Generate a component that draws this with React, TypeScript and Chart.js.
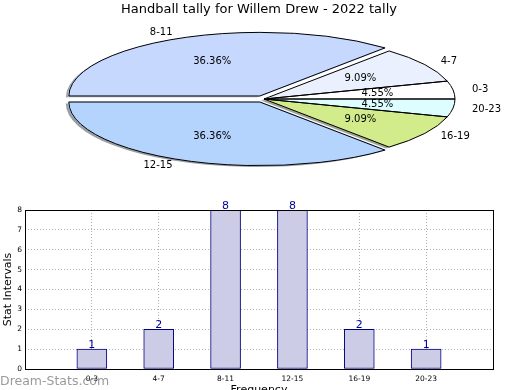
import React, { useEffect, useRef } from 'react';
import { Chart, registerables } from 'chart.js';

Chart.register(...registerables);

const TITLE = 'Handball tally for Willem Drew - 2022 tally';
const CATEGORIES = ['0-3', '4-7', '8-11', '12-15', '16-19', '20-23'];
const COUNTS = [1, 2, 8, 8, 2, 1];
const SLICE_COLORS = ['#FFFFFF', '#EAF0FE', '#C6D8FE', '#B4D3FD', '#D2EC8C', '#DCFEFE'];
const EXPLODED = ['8-11', '12-15'];
const Y_TICKS = [0, 1, 2, 3, 4, 5, 6, 7, 8];
const X_LABEL = 'Frequency';
const Y_LABEL = 'Stat Intervals';
const WATERMARK = 'Dream-Stats.com';

const FONT = "'DejaVu Sans', sans-serif";
const K = 0.333; // vertical squash of the pie
const PIE_R = 191;
const EXPLODE_PX = 10;

Chart.defaults.font.family = FONT;

function hexRgb(h: string) {
  const n = parseInt(h.slice(1), 16);
  return [(n >> 16) & 255, (n >> 8) & 255, n & 255];
}

function pieTransform(ctx: CanvasRenderingContext2D, cx: number, cy: number) {
  ctx.translate(cx, cy);
  ctx.scale(1, K);
  ctx.translate(-cx, -cy);
}

function arcGeom(arc: any) {
  const p = arc.getProps(['x', 'y', 'startAngle', 'endAngle', 'outerRadius'], true);
  const off = (arc.options && arc.options.offset) || 0;
  const c = p.endAngle - p.startAngle;
  const t = (off / 4) * (2 - Math.sin(Math.min(Math.PI, c)));
  const mid = (p.startAngle + p.endAngle) / 2;
  return {
    x: p.x, y: p.y, s: p.startAngle, e: p.endAngle, r: p.outerRadius, mid,
    ex: p.x + Math.cos(mid) * t, ey: p.y + Math.sin(mid) * t,
  };
}

function arcPath(ctx: CanvasRenderingContext2D, g: any, dx = 0, dy = 0) {
  ctx.save();
  ctx.translate(dx, dy);
  pieTransform(ctx, g.x, g.y);
  ctx.beginPath();
  ctx.moveTo(g.ex, g.ey);
  ctx.arc(g.ex, g.ey, g.r, g.s, g.e);
  ctx.closePath();
  ctx.restore();
}

export default function App() {
  const pieRef = useRef<HTMLCanvasElement>(null);
  const barRef = useRef<HTMLCanvasElement>(null);

  useEffect(() => {
    const order = CATEGORIES.map((_, i) => CATEGORIES.length - 1 - i);
    const total = COUNTS.reduce((a, b) => a + b, 0);
    const offsets = order.map((i) => {
      if (!EXPLODED.includes(CATEGORIES[i])) return 0;
      const c = (COUNTS[i] / total) * 2 * Math.PI;
      return (EXPLODE_PX * 4) / (2 - Math.sin(Math.min(Math.PI, c)));
    });

    const piePlugin = {
      id: 'pieEllipse',
      beforeDatasetsDraw(chart: any) {
        const ctx = chart.ctx as CanvasRenderingContext2D;
        const meta = chart.getDatasetMeta(0);
        meta.data.forEach((arc: any, j: number) => {
          const g = arcGeom(arc);
          const [r, gg, b] = hexRgb(SLICE_COLORS[order[j]]);
          arcPath(ctx, g, -3, 1.4);
          ctx.fillStyle = `rgba(${Math.round(r * 0.3)},${Math.round(gg * 0.3)},${Math.round(b * 0.3)},0.5)`;
          ctx.fill();
        });
        const a0 = meta.data[0];
        ctx.save();
        pieTransform(ctx, a0.x, a0.y);
      },
      afterDatasetsDraw(chart: any) {
        const ctx = chart.ctx as CanvasRenderingContext2D;
        ctx.restore();
        const meta = chart.getDatasetMeta(0);
        ctx.save();
        ctx.strokeStyle = '#000';
        ctx.lineWidth = 1;
        meta.data.forEach((arc: any) => {
          const g = arcGeom(arc);
          arcPath(ctx, g);
          ctx.stroke();
        });
        ctx.restore();
      },
      afterDraw(chart: any) {
        const ctx = chart.ctx as CanvasRenderingContext2D;
        const meta = chart.getDatasetMeta(0);
        ctx.save();
        ctx.fillStyle = '#000';
        ctx.textBaseline = 'middle';
        ctx.textAlign = 'center';
        ctx.font = `13px ${FONT}`;
        ctx.fillText(TITLE, 259, 10);
        ctx.font = `10px ${FONT}`;
        meta.data.forEach((arc: any, j: number) => {
          const g = arcGeom(arc);
          const i = order[j];
          const cs = Math.cos(g.mid);
          const sn = Math.sin(g.mid);
          const pct = ((COUNTS[i] / total) * 100).toFixed(2) + '%';
          const px = g.ex + cs * g.r * 0.6;
          const py = g.y + K * (g.ey + sn * g.r * 0.6 - g.y);
          ctx.textAlign = 'center';
          ctx.fillText(pct, px, py);
          const lx = g.ex + cs * g.r * 1.1;
          const ly = g.y + K * (g.ey + sn * g.r * 1.1 - g.y);
          ctx.textAlign = cs >= 0 ? 'left' : 'right';
          ctx.fillText(CATEGORIES[i], lx, ly);
        });
        ctx.restore();
      },
    };

    const pie = new Chart(pieRef.current as HTMLCanvasElement, {
      type: 'pie',
      data: {
        labels: order.map((i) => CATEGORIES[i]),
        datasets: [
          {
            data: order.map((i) => COUNTS[i]),
            backgroundColor: order.map((i) => SLICE_COLORS[i]),
            borderWidth: 0,
            offset: offsets,
            radius: PIE_R,
            clip: false,
          } as any,
        ],
      },
      options: {
        responsive: false,
        animation: false,
        events: [],
        rotation: 90,
        layout: { padding: { left: 8, right: 0, top: 0, bottom: 192 } },
        plugins: { legend: { display: false }, tooltip: { enabled: false }, title: { display: false } },
      } as any,
      plugins: [piePlugin],
    });

    const gridColor = '#b0b0b0';
    const barPlugin = {
      id: 'barExtras',
      afterDraw(chart: any) {
        const ctx = chart.ctx as CanvasRenderingContext2D;
        const a = chart.chartArea;
        ctx.save();
        ctx.strokeStyle = '#000';
        ctx.lineWidth = 1;
        ctx.strokeRect(Math.round(a.left) + 0.5, Math.round(a.top) + 0.5, Math.round(a.right - a.left), Math.round(a.bottom - a.top));
        const meta = chart.getDatasetMeta(0);
        ctx.fillStyle = '#000099';
        ctx.font = `11px ${FONT}`;
        ctx.textAlign = 'center';
        ctx.textBaseline = 'alphabetic';
        meta.data.forEach((bar: any, i: number) => {
          ctx.fillText(String(COUNTS[i]), bar.x, bar.y - 1);
        });
        ctx.font = `12.5px ${FONT}`;
        ctx.fillStyle = 'rgba(120,120,120,0.75)';
        ctx.textAlign = 'left';
        ctx.fillText(WATERMARK, 0, 385);
        ctx.restore();
      },
    };

    const bar = new Chart(barRef.current as HTMLCanvasElement, {
      type: 'bar',
      data: {
        datasets: [
          {
            data: CATEGORIES.map((c, i) => ({ x: i, y: COUNTS[i] })),
            backgroundColor: '#CCCCE6',
            borderColor: '#000080',
            borderWidth: 1,
            borderSkipped: false,
            barThickness: 30,
          } as any,
        ],
      },
      options: {
        responsive: false,
        animation: false,
        events: [],
        layout: { padding: { left: 0, right: 27, top: 210, bottom: 0 } },
        plugins: { legend: { display: false }, tooltip: { enabled: false } },
        scales: {
          x: {
            type: 'linear',
            min: -1,
            max: CATEGORIES.length,
            offset: false,
            z: 1,
            afterFit: (s: any) => { s.height = 21; },
            afterBuildTicks: (s: any) => {
              s.ticks = [-1, ...CATEGORIES.map((_, i) => i), CATEGORIES.length].map((v) => ({ value: v }));
            },
            ticks: {
              autoSkip: false,
              maxRotation: 0,
              padding: 6,
              font: { size: 7.5 },
              color: '#000',
              callback: (v: any) => CATEGORIES[v] ?? '',
            },
            grid: {
              offset: false,
              drawTicks: false,
              lineWidth: 1,
              color: (c: any) => (c.tick && c.tick.value >= 0 && c.tick.value < CATEGORIES.length ? gridColor : 'rgba(0,0,0,0)'),
            },
            border: { display: false, dash: [1, 2] },
            title: { display: true, text: X_LABEL, color: '#000', font: { size: 11 }, padding: { top: 0, bottom: -7 } },
          },
          y: {
            type: 'linear',
            min: Y_TICKS[0],
            max: Y_TICKS[Y_TICKS.length - 1],
            z: 1,
            afterFit: (s: any) => { s.width = 25; },
            afterBuildTicks: (s: any) => { s.ticks = Y_TICKS.map((v) => ({ value: v })); },
            ticks: { padding: 3, font: { size: 7.5 }, color: '#000' },
            grid: { drawTicks: false, lineWidth: 1, color: gridColor },
            border: { display: false, dash: [1, 2] },
            title: { display: true, text: Y_LABEL, color: '#000', font: { size: 11 }, padding: { top: 2, bottom: 0 } },
          },
        },
      } as any,
      plugins: [barPlugin],
    });

    return () => {
      pie.destroy();
      bar.destroy();
    };
  }, []);

  return (
    <div style={{ position: 'absolute', left: 0, top: 0, width: 520, height: 390, background: '#fff' }}>
      <canvas ref={barRef} width={520} height={390} style={{ position: 'absolute', left: 0, top: 0 }} />
      <canvas ref={pieRef} width={520} height={390} style={{ position: 'absolute', left: 0, top: 0 }} />
    </div>
  );
}
